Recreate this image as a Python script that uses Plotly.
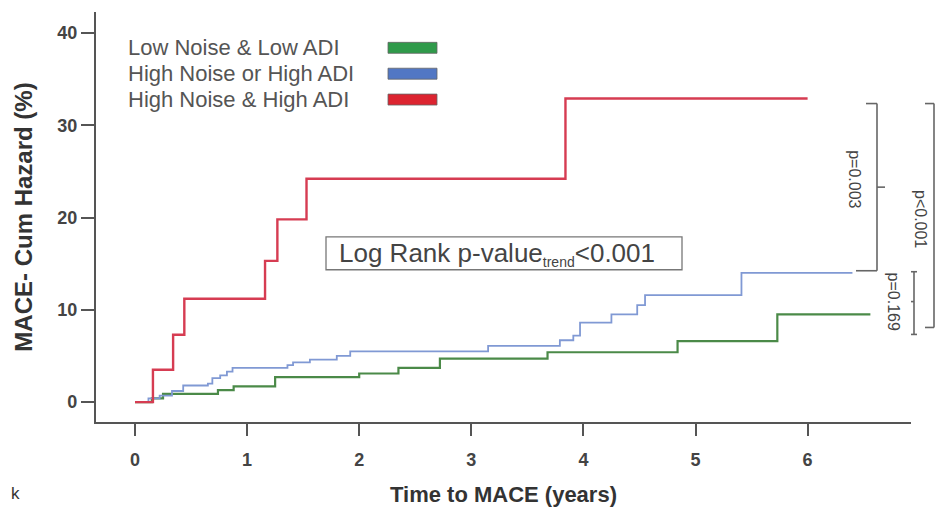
import plotly.graph_objects as go

# ---- data ----
red_t = [0, 0.16, 0.34, 0.44, 1.16, 1.27, 1.53, 3.84, 6.0]
red_v = [0, 3.5, 7.3, 11.2, 15.3, 19.8, 24.2, 32.9, 32.9]

blue_t = [0, 0.12, 0.22, 0.33, 0.43, 0.65, 0.69, 0.76, 0.82, 0.87, 1.36, 1.41, 1.56,
          1.80, 1.92, 3.15, 3.79, 3.91, 3.97, 4.25, 4.48, 4.55, 5.41, 6.40]
blue_v = [0, 0.4, 0.7, 1.2, 1.8, 2.0, 2.6, 2.9, 3.3, 3.7, 4.0, 4.3, 4.6,
          5.0, 5.5, 6.1, 6.7, 7.2, 8.6, 9.5, 10.5, 11.6, 14.0, 14.0]

green_t = [0, 0.15, 0.25, 0.74, 0.88, 1.25, 2.0, 2.35, 2.72, 3.68, 4.84, 5.73, 6.56]
green_v = [0, 0.4, 0.9, 1.3, 1.7, 2.7, 3.1, 3.7, 4.7, 5.4, 6.6, 9.5, 9.5]

series_names = ["Low Noise & Low ADI", "High Noise or High ADI", "High Noise & High ADI"]
swatch_colors = ["#2f9a4a", "#5277c4", "#dc2430"]
x_ticks = [0, 1, 2, 3, 4, 5, 6]
y_ticks = [0, 10, 20, 30, 40]
logrank_text = "Log Rank p-value<sub><span style='font-size:14px'>trend</span></sub><0.001"
pair_p = ["p=0.003", "p<0.001", "p=0.169"]

# page is offset by the 8px body margin
OFF = 8
PAGE_W, PAGE_H = 943, 507
W, H = PAGE_W - OFF, PAGE_H - OFF
# plot area in page pixels
PL, PR, PT, PB = 96, 911, 12, 424
L, T = PL - OFF, PT - OFF
R, B = W - (PR - OFF), H - (PB - OFF)
PW, PH = PR - PL, PB - PT


def px(x):
    return (x - PL) / PW


def py(y):
    return (PB - y) / PH


FONT = "Liberation Sans, Arial"

fig = go.Figure()
fig.add_trace(go.Scatter(x=green_t, y=green_v, mode="lines", line_shape="hv",
                         line=dict(color="#4b8a48", width=2.2), showlegend=False))
fig.add_trace(go.Scatter(x=blue_t, y=blue_v, mode="lines", line_shape="hv",
                         line=dict(color="#8099d4", width=1.8), showlegend=False))
fig.add_trace(go.Scatter(x=red_t, y=red_v, mode="lines", line_shape="hv",
                         line=dict(color="#d63c52", width=2.4), showlegend=False))

shapes = []
annotations = []

# legend (text + swatch to the right)
rows_y = [48, 74, 100]
for name, col, ry in zip(series_names, swatch_colors, rows_y):
    annotations.append(dict(text=name, xref="paper", yref="paper", x=px(126), y=py(ry),
                            xanchor="left", yanchor="middle", showarrow=False,
                            font=dict(size=22, color="#555555", family=FONT)))
    shapes.append(dict(type="rect", xref="paper", yref="paper",
                       x0=px(388), x1=px(437), y0=py(ry - 5.5), y1=py(ry + 5.5),
                       fillcolor=col, line=dict(color="#666666", width=0.8)))

# log-rank box
shapes.append(dict(type="rect", xref="paper", yref="paper",
                   x0=px(326), x1=px(682), y0=py(271), y1=py(238),
                   fillcolor="white", line=dict(color="#777777", width=1.3)))
annotations.append(dict(text=logrank_text, xref="paper", yref="paper",
                        x=px(337), y=py(255), xanchor="left", yanchor="middle",
                        showarrow=False,
                        font=dict(size=26, color="#444444", family=FONT)))

# brackets
bc = dict(color="#666666", width=1.6)


def seg(x0, y0, x1, y1):
    shapes.append(dict(type="line", xref="paper", yref="paper",
                       x0=px(x0), y0=py(y0), x1=px(x1), y1=py(y1), line=bc))


# bracket 1 (red vs blue)
seg(877, 104, 877, 272)
seg(866, 104, 877, 104)
seg(856, 272, 877, 272)
seg(877, 188, 885, 188)
# bracket 2 (red vs green)
seg(934, 104, 934, 329)
seg(925, 104, 934, 104)
seg(925, 329, 934, 329)
# bracket 3 (blue vs green)
seg(914, 273, 914, 336)
seg(911, 273, 917, 273)
seg(911, 336, 917, 336)
seg(911, 303, 914, 303)

for txt, (tx, ty) in zip(pair_p, [(855, 180), (920, 220), (893, 303)]):
    annotations.append(dict(text=txt, xref="paper", yref="paper", x=px(tx), y=py(ty),
                            xanchor="center", yanchor="middle", textangle=90,
                            showarrow=False,
                            font=dict(size=16, color="#444444", family=FONT)))

# cut-off text at bottom-left
annotations.append(dict(text="k", xref="paper", yref="paper", x=px(9), y=py(496),
                        xanchor="left", yanchor="middle", showarrow=False,
                        font=dict(size=17, color="#333333", family=FONT)))

x0v = 135
ppx = 112.1
y0v = 404
ppy = 9.275

fig.update_layout(
    width=W, height=H,
    margin=dict(l=L, r=R, t=T, b=B),
    paper_bgcolor="white", plot_bgcolor="white",
    shapes=shapes, annotations=annotations,
    xaxis=dict(range=[(PL - x0v) / ppx, (PR - x0v) / ppx],
               tickvals=x_ticks, ticktext=["<b>%d</b>" % v for v in x_ticks],
               showgrid=False, zeroline=False, showline=True,
               linecolor="#555555", linewidth=2.2,
               ticks="outside", ticklen=12, tickwidth=2, tickcolor="#555555",
               ticklabelstandoff=8,
               tickfont=dict(size=18, color="#444444", family=FONT),
               title=dict(text="<b>Time to MACE (years)</b>", standoff=18,
                          font=dict(size=22, color="#333333", family=FONT))),
    yaxis=dict(range=[-(PB - y0v) / ppy, (y0v - PT) / ppy],
               tickvals=y_ticks, ticktext=["<b>%d</b>" % v for v in y_ticks],
               showgrid=False, zeroline=False, showline=True,
               linecolor="#555555", linewidth=2.2,
               ticks="outside", ticklen=13, tickwidth=2, tickcolor="#555555",
               tickfont=dict(size=18, color="#444444", family=FONT),
               title=dict(text="<b>MACE- Cum Hazard (%)</b>", standoff=18,
                          font=dict(size=24, color="#333333", family=FONT))),
)

fig.write_html("out.html")
